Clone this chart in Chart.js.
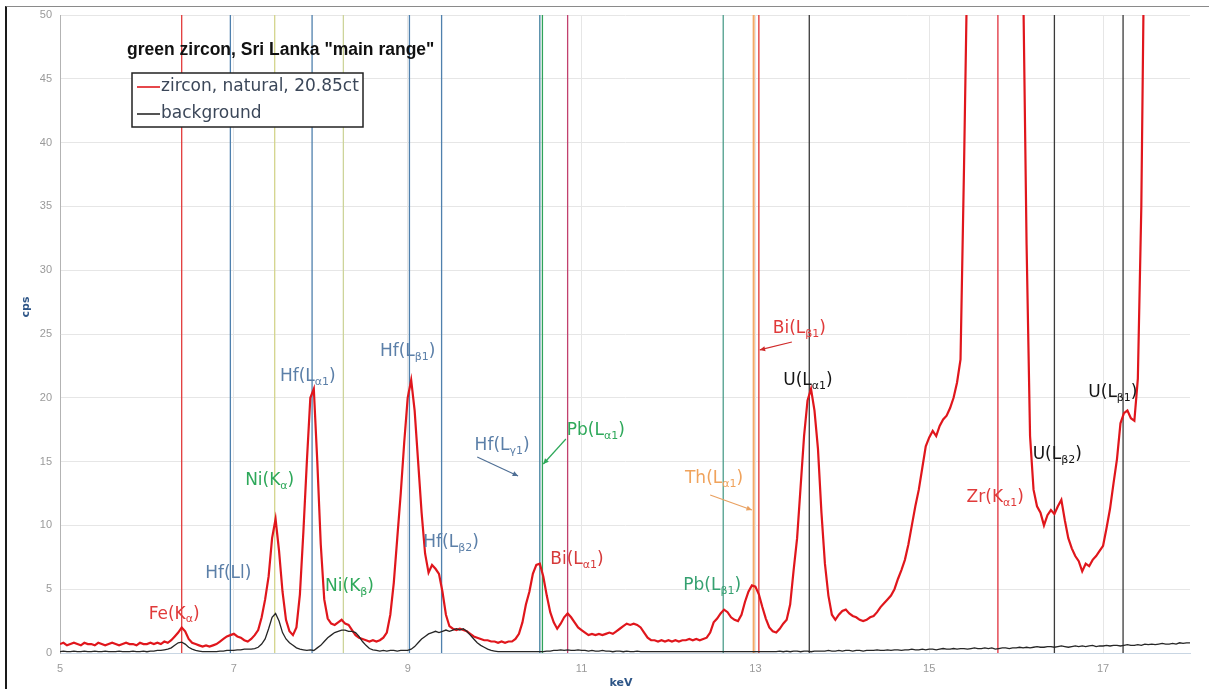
<!DOCTYPE html>
<html>
<head>
<meta charset="utf-8">
<title>green zircon, Sri Lanka - XRF spectrum</title>
<script src="https://cdn.jsdelivr.net/npm/chart.js@4.4.1/dist/chart.umd.min.js"></script>
<style>
  html, body { margin: 0; padding: 0; background: #fff; }
  #wrap { position: relative; width: 1209px; height: 689px; overflow: hidden; }
  #spec { position: absolute; left: 0; top: 0; }
  #frame { position: absolute; left: 5px; top: 6px; right: -2px; bottom: -2px;
           border-left: 2px solid #1a1a1a; border-top: 1px solid #8a8a8a; pointer-events: none; }
</style>
</head>
<body>
<div id="wrap">
  <canvas id="spec" width="1209" height="689"></canvas>
  <div id="frame"></div>
</div>
<script>
// channel grid of the spectra (keV)
const channelStart = 5.0;
const channelStep = 0.04;

// zircon, natural, 20.85ct  (cps, one row per keV)
const zirconCps = [
  0.7,0.8,0.6,0.7,0.8, 0.7,0.6,0.8,0.7,0.7, 0.6,0.8,0.7,0.6,0.7, 0.8,0.7,0.6,0.7,0.8, 0.7,0.7,0.6,0.8,0.7,
  0.7,0.8,0.7,0.8,0.7, 0.9,0.8,1.0,1.3,1.6, 2.0,1.7,1.1,0.8,0.7, 0.6,0.5,0.6,0.5,0.6, 0.7,0.9,1.1,1.3,1.4,
  1.5,1.3,1.2,1.0,0.9, 1.1,1.4,1.8,2.8,4.2, 6.0,9.0,10.5,8.0,4.8, 2.6,1.7,1.4,2.0,4.6, 9.5,15.0,20.0,20.7,15.0,
  8.5,4.2,2.7,2.3,2.2, 2.4,2.6,2.3,2.2,1.8, 1.4,1.2,1.1,1.0,0.9, 1.0,0.9,1.0,1.2,1.6, 3.0,5.5,9.0,12.5,16.5,
  20.0,21.4,19.0,15.0,11.0, 7.8,6.3,6.9,6.6,6.2, 4.8,3.0,2.1,1.9,1.8, 1.9,1.8,1.7,1.5,1.3, 1.2,1.1,1.0,1.0,0.9,
  0.9,0.8,0.9,0.8,0.9, 0.9,1.1,1.5,2.4,3.8, 4.8,6.2,6.9,7.0,6.0, 4.5,3.2,2.4,1.9,2.3, 2.8,3.1,2.8,2.4,2.0,
  1.8,1.6,1.4,1.5,1.4, 1.5,1.4,1.5,1.6,1.5, 1.7,1.9,2.1,2.3,2.2, 2.3,2.2,2.0,1.6,1.2, 1.0,1.0,0.9,1.0,0.9,
  1.0,0.9,1.0,0.9,1.0, 1.0,1.1,1.0,1.1,1.0, 1.1,1.2,1.6,2.4,2.7, 3.1,3.4,3.2,2.8,2.6, 2.5,3.0,4.0,4.8,5.3,
  5.2,4.6,3.6,2.7,2.0, 1.7,1.6,1.9,2.3,2.6, 3.8,6.5,9.0,13.0,17.0, 19.8,20.7,19.0,16.0,11.0, 7.0,4.5,3.0,2.6,3.0,
  3.3,3.4,3.1,2.9,2.8, 2.6,2.5,2.6,2.8,2.9, 3.2,3.6,3.9,4.2,4.5, 5.0,5.8,6.5,7.3,8.5, 10.0,11.5,12.8,14.5,16.2,
  16.9,17.4,17.0,17.8,18.3, 18.6,19.2,20.0,21.2,23.0, 38,55,80,120,170, 220,260,280,290,300, 280,250,200,150,110,
  80,65,53,32,17, 12.8,11.5,11.0,10.0,10.8, 11.2,10.9,11.5,12.0,10.4, 9.0,8.2,7.6,7.2,6.4, 7.0,6.8,7.3,7.6,8.0,
  8.4,9.8,11.3,13.3,15.2, 18.0,18.8,19.0,18.4,18.2, 21.5,35,60,90
];

// background (cps)
const backgroundCps = [
  0.1,0.15,0.1,0.1,0.15, 0.1,0.1,0.15,0.1,0.1, 0.15,0.1,0.1,0.15,0.1, 0.1,0.1,0.15,0.1,0.1, 0.1,0.15,0.1,0.1,0.15,
  0.1,0.15,0.15,0.2,0.2, 0.25,0.3,0.4,0.6,0.8, 0.85,0.7,0.45,0.3,0.2, 0.15,0.1,0.1,0.1,0.1, 0.1,0.15,0.15,0.2,0.2,
  0.2,0.25,0.25,0.3,0.3, 0.3,0.35,0.45,0.7,1.1, 1.9,2.8,3.1,2.5,1.6, 1.1,0.8,0.6,0.4,0.3, 0.25,0.2,0.25,0.2,0.4,
  0.6,0.9,1.2,1.4,1.6, 1.7,1.8,1.8,1.7,1.7, 1.6,1.3,0.9,0.6,0.35, 0.25,0.2,0.15,0.2,0.15, 0.2,0.2,0.15,0.2,0.2,
  0.2,0.3,0.5,0.8,1.1, 1.3,1.5,1.6,1.7,1.6, 1.7,1.8,1.7,1.8,1.9, 1.8,1.9,1.7,1.4,1.1, 0.8,0.6,0.45,0.3,0.2,
  0.15,0.1,0.1,0.1,0.1, 0.1,0.1,0.1,0.1,0.1, 0.1,0.1,0.1,0.1,0.1, 0.15,0.15,0.2,0.2,0.25, 0.2,0.25,0.2,0.2,0.25,
  0.2,0.2,0.15,0.2,0.15, 0.15,0.2,0.15,0.15,0.1, 0.15,0.15,0.1,0.15,0.1, 0.1,0.15,0.1,0.1,0.1, 0.1,0.1,0.1,0.1,0.1,
  0.1,0.1,0.1,0.1,0.1, 0.1,0.1,0.1,0.1,0.1, 0.1,0.1,0.1,0.1,0.1, 0.1,0.1,0.1,0.1,0.1, 0.1,0.1,0.1,0.1,0.1,
  0.1,0.1,0.1,0.1,0.1, 0.1,0.1,0.15,0.1,0.15, 0.1,0.15,0.15,0.1,0.15, 0.15,0.1,0.15,0.15,0.15, 0.15,0.2,0.15,0.15,0.2,
  0.15,0.2,0.2,0.15,0.2, 0.2,0.15,0.2,0.2,0.2, 0.25,0.2,0.2,0.25,0.2, 0.25,0.25,0.2,0.25,0.25, 0.3,0.25,0.25,0.3,0.25,
  0.3,0.3,0.25,0.3,0.35, 0.3,0.3,0.35,0.3,0.35, 0.35,0.3,0.35,0.4,0.35, 0.35,0.4,0.35,0.4,0.3, 0.35,0.4,0.4,0.35,0.4,
  0.4,0.45,0.4,0.45,0.4, 0.45,0.5,0.45,0.45,0.5, 0.5,0.45,0.5,0.55,0.5, 0.45,0.5,0.55,0.5,0.55, 0.5,0.55,0.6,0.5,0.55,
  0.55,0.6,0.55,0.6,0.6, 0.55,0.6,0.65,0.6,0.6, 0.65,0.6,0.7,0.65,0.7, 0.65,0.7,0.75,0.7,0.7, 0.75,0.7,0.8,0.75,0.8,
  0.8
];

// emission lines (keV)
const lineNames    = ['Fe Ka', 'Hf Ll', 'Ni Ka', 'Hf La1', 'Ni Kb', 'Hf Lb1', 'Hf Lb2', 'Hf Lg1', 'Pb La1',
                      'Bi La1', 'Pb Lb1', 'Th La1', 'Bi Lb1', 'U La1', 'Zr Ka1', 'U Lb2', 'U Lb1'];
const lineEnergies = [6.40, 6.96, 7.47, 7.90, 8.26, 9.02, 9.39, 10.52, 10.55,
                      10.84, 12.63, 12.98, 13.04, 13.62, 15.79, 16.44, 17.23];
const lineColors   = ['#e23b3b', '#4f80ad', '#d3d48c', '#4f80ad', '#cdd49a', '#4f80ad', '#4f80ad', '#3f7f9f', '#2fa35a',
                      '#c2406e', '#4e9e8c', '#f3a866', '#e03232', '#3a3a3a', '#e0303c', '#3a3a3a', '#3a3a3a'];

const xTickValues = [5, 7, 9, 11, 13, 15, 17];
const yTickValues = [0, 5, 10, 15, 20, 25, 30, 35, 40, 45, 50];

// peak labels: text anchored at (keV, cps) = left edge / vertical middle
const RED = '#e03a3a', BLUE = '#5b7fa8', GREEN = '#2ea85a', DARK = '#151515';
const peakLabels = [
  { base: 'Fe(K', sub: 'α',  at: [6.02, 3.05],  color: RED },
  { base: 'Hf(Ll', sub: '',  at: [6.67, 6.23],  color: BLUE },
  { base: 'Ni(K', sub: 'α',  at: [7.13, 13.48], color: GREEN },
  { base: 'Hf(L', sub: 'α1', at: [7.53, 21.63], color: BLUE },
  { base: 'Hf(L', sub: 'β1', at: [8.68, 23.59], color: BLUE },
  { base: 'Ni(K', sub: 'β',  at: [8.05, 5.17],  color: GREEN },
  { base: 'Hf(L', sub: 'β2', at: [9.18, 8.62],  color: BLUE },
  { base: 'Hf(L', sub: 'γ1', at: [9.77, 16.22], color: BLUE },
  { base: 'Pb(L', sub: 'α1', at: [10.83, 17.4], color: GREEN },
  { base: 'Bi(L', sub: 'α1', at: [10.64, 7.29], color: '#d63a3a' },
  { base: 'Pb(L', sub: 'β1', at: [12.17, 5.25], color: '#35a070' },
  { base: 'Th(L', sub: 'α1', at: [12.19, 13.64], color: '#f0a35c' },
  { base: 'Bi(L', sub: 'β1', at: [13.20, 25.39], color: RED },
  { base: 'U(L',  sub: 'α1', at: [13.32, 21.32], color: DARK },
  { base: 'Zr(K', sub: 'α1', at: [15.43, 12.15], color: RED },
  { base: 'U(L',  sub: 'β2', at: [16.19, 15.52], color: DARK },
  { base: 'U(L',  sub: 'β1', at: [16.83, 20.38], color: DARK }
];

// pointer arrows from a label to its line
const pointers = [
  { from: [9.80, 15.36],  to: [10.27, 13.87], color: '#4f6f95' },
  { from: [10.82, 16.77], to: [10.56, 14.81], color: '#2ea85a' },
  { from: [12.48, 12.38], to: [12.96, 11.21], color: '#e9a060' },
  { from: [13.42, 24.37], to: [13.05, 23.75], color: '#d02a2a' }
];

const X_MIN = 5, X_MAX = 18, Y_MIN = 0, Y_MAX = 50;

const toPoints = arr => arr.map((v, i) => ({ x: +(channelStart + i * channelStep).toFixed(2), y: v }));

const lineSets = lineEnergies.map((e, i) => ({
  label: lineNames[i],
  data: [{ x: e, y: Y_MIN }, { x: e, y: Y_MAX }],
  showLine: true,
  borderColor: lineColors[i],
  borderWidth: i === 11 ? 2 : 1.3,
  pointRadius: 0,
  order: 3
}));

const FONT = '"DejaVu Sans", "Liberation Sans", sans-serif';

const decorations = {
  id: 'decorations',
  afterDatasetsDraw(chart) {
    const { ctx, scales: { x, y } } = chart;
    ctx.save();
    ctx.textBaseline = 'middle';
    ctx.textAlign = 'left';
    peakLabels.forEach(l => {
      let px = x.getPixelForValue(l.at[0]);
      const py = y.getPixelForValue(l.at[1]);
      ctx.fillStyle = l.color;
      ctx.font = '17px ' + FONT;
      ctx.fillText(l.base, px, py);
      px += ctx.measureText(l.base).width;
      if (l.sub) {
        ctx.font = '11px ' + FONT;
        ctx.fillText(l.sub, px, py + 5);
        px += ctx.measureText(l.sub).width;
      }
      ctx.font = '17px ' + FONT;
      ctx.fillText(')', px, py);
    });

    pointers.forEach(p => {
      const x0 = x.getPixelForValue(p.from[0]), y0 = y.getPixelForValue(p.from[1]);
      const x1 = x.getPixelForValue(p.to[0]), y1 = y.getPixelForValue(p.to[1]);
      const ang = Math.atan2(y1 - y0, x1 - x0);
      ctx.strokeStyle = p.color;
      ctx.fillStyle = p.color;
      ctx.lineWidth = 1.2;
      ctx.beginPath();
      ctx.moveTo(x0, y0);
      ctx.lineTo(x1, y1);
      ctx.stroke();
      ctx.beginPath();
      ctx.moveTo(x1, y1);
      ctx.lineTo(x1 - 6 * Math.cos(ang - 0.45), y1 - 6 * Math.sin(ang - 0.45));
      ctx.lineTo(x1 - 6 * Math.cos(ang + 0.45), y1 - 6 * Math.sin(ang + 0.45));
      ctx.closePath();
      ctx.fill();
    });
    ctx.restore();
  },
  afterDraw(chart) {
    const { ctx, chartArea: area } = chart;
    ctx.save();

    // heading inside the plot
    ctx.fillStyle = '#111';
    ctx.font = 'bold 17.5px "Liberation Sans", Arial, sans-serif';
    ctx.textBaseline = 'middle';
    ctx.fillText('green zircon, Sri Lanka "main range"', 127, 50);

    // legend box
    ctx.fillStyle = '#fff';
    ctx.fillRect(132, 73, 231, 54);
    ctx.strokeStyle = '#222';
    ctx.lineWidth = 1.5;
    ctx.strokeRect(132, 73, 231, 54);
    const entries = [['zircon, natural, 20.85ct', '#e0191f', 87], ['background', '#2a2a2a', 114]];
    entries.forEach(([txt, col, ly]) => {
      ctx.strokeStyle = col;
      ctx.lineWidth = 1.6;
      ctx.beginPath();
      ctx.moveTo(137, ly);
      ctx.lineTo(160, ly);
      ctx.stroke();
      ctx.fillStyle = '#3b4759';
      ctx.font = '17px ' + FONT;
      ctx.fillText(txt, 161, ly);
    });

    // axis titles
    ctx.fillStyle = '#2d5587';
    ctx.font = 'bold 11px "DejaVu Sans", sans-serif';
    ctx.textAlign = 'center';
    ctx.fillText('keV', (area.left + area.right) / 2 - 4, 683);
    ctx.translate(26, 307);
    ctx.rotate(-Math.PI / 2);
    ctx.fillText('cps', 0, 0);
    ctx.restore();
  }
};

new Chart(document.getElementById('spec'), {
  type: 'scatter',
  data: {
    datasets: [
      {
        label: 'background',
        data: toPoints(backgroundCps),
        showLine: true,
        borderColor: '#262626',
        borderWidth: 1.3,
        pointRadius: 0,
        order: 1
      },
      {
        label: 'zircon, natural, 20.85ct',
        data: toPoints(zirconCps),
        showLine: true,
        borderColor: '#e0161c',
        borderWidth: 2.2,
        pointRadius: 0,
        order: 2
      },
      ...lineSets
    ]
  },
  options: {
    responsive: false,
    animation: false,
    devicePixelRatio: 1,
    layout: { padding: { top: 15, right: 19, left: 0, bottom: 0 } },
    plugins: { legend: { display: false }, tooltip: { enabled: false } },
    scales: {
      x: {
        type: 'linear',
        min: X_MIN,
        max: X_MAX,
        afterBuildTicks: s => { s.ticks = xTickValues.map(v => ({ value: v })); },
        afterFit: s => { s.height = 36; },
        grid: { color: '#e6e6e6', drawTicks: false },
        border: { display: true, color: '#c9d6e3' },
        ticks: { padding: 9, color: '#9a9a9a', autoSkip: false, maxRotation: 0,
                 font: { family: '"Liberation Sans", Arial, sans-serif', size: 11 } }
      },
      y: {
        min: Y_MIN,
        max: Y_MAX,
        afterBuildTicks: s => { s.ticks = yTickValues.map(v => ({ value: v })); },
        afterFit: s => { s.width = 60; },
        grid: { color: '#e6e6e6', drawTicks: false },
        border: { display: true, color: '#b3b3b3' },
        ticks: { padding: 8, color: '#9a9a9a',
                 font: { family: '"Liberation Sans", Arial, sans-serif', size: 11 } }
      }
    }
  },
  plugins: [decorations]
});
</script>
</body>
</html>
